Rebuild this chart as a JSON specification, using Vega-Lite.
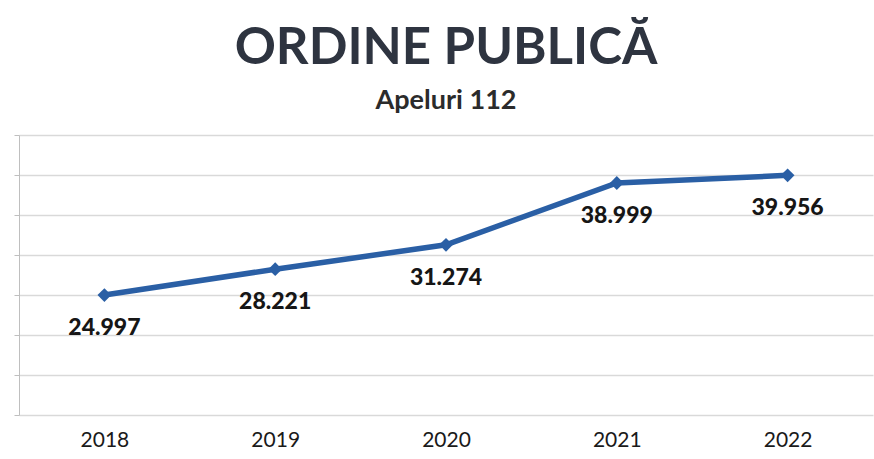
{
  "$schema": "https://vega.github.io/schema/vega-lite/v6.json",
  "width": 854,
  "height": 280,
  "autosize": {"type": "none"},
  "padding": {"left": 19, "top": 135, "right": 1, "bottom": 44},
  "background": "white",
  "config": {
    "view": {"stroke": null},
    "locale": {"number": {"decimal": ",", "thousands": ".", "grouping": [3], "currency": ["", ""]}},
    "font": "Lato"
  },
  "title": {
    "text": "ORDINE PUBLICĂ",
    "subtitle": "Apeluri 112",
    "anchor": "middle",
    "font": "Lato",
    "fontSize": 51,
    "fontWeight": "bold",
    "color": "#2e3440",
    "subtitleFont": "Lato",
    "subtitleFontSize": 27,
    "subtitleFontWeight": "bold",
    "subtitleColor": "#2b2b2b",
    "subtitlePadding": 13,
    "offset": 20
  },
  "data": {
    "values": [
      {"an": "2018", "apeluri": 24997},
      {"an": "2019", "apeluri": 28221},
      {"an": "2020", "apeluri": 31274},
      {"an": "2021", "apeluri": 38999},
      {"an": "2022", "apeluri": 39956}
    ]
  },
  "encoding": {
    "x": {
      "field": "an",
      "type": "ordinal",
      "scale": {"paddingInner": 0, "paddingOuter": 0},
      "axis": {
        "title": null,
        "labelAngle": 0,
        "labelFont": "Lato",
        "labelFontSize": 21,
        "labelColor": "#1a1a1a",
        "labelPadding": 14,
        "domain": false,
        "ticks": false
      }
    },
    "y": {
      "field": "apeluri",
      "type": "quantitative",
      "scale": {"domain": [10000, 45000], "nice": false},
      "axis": {
        "title": null,
        "values": [10000, 15000, 20000, 25000, 30000, 35000, 40000, 45000],
        "labels": false,
        "domainColor": "#bfbfbf",
        "tickColor": "#bfbfbf",
        "tickSize": 5,
        "gridColor": "#d9d9d9",
        "gridWidth": 1.5
      }
    }
  },
  "layer": [
    {
      "mark": {"type": "line", "color": "#2a5fa5", "strokeWidth": 5.5}
    },
    {
      "mark": {"type": "point", "shape": "diamond", "filled": true, "color": "#2a5fa5", "size": 190, "opacity": 1}
    },
    {
      "mark": {"type": "text", "dy": 33, "font": "Lato", "fontSize": 23, "fontWeight": 900, "color": "#161616"},
      "encoding": {
        "text": {"field": "apeluri", "type": "quantitative", "format": ",d"}
      }
    }
  ]
}
